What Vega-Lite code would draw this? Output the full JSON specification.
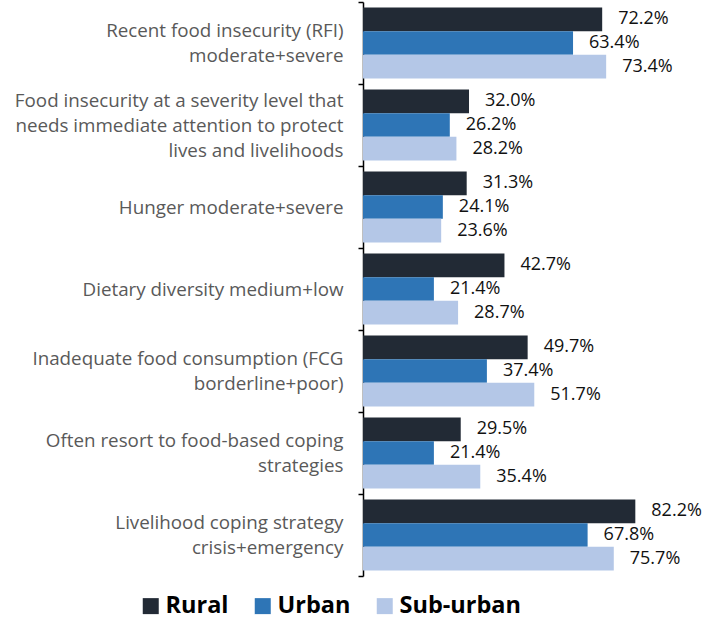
{
  "$schema": "https://vega.github.io/schema/vega-lite/v6.json",
  "autosize": "none",
  "padding": {"left": 363, "top": 2, "right": 0, "bottom": 45},
  "width": 356,
  "height": 574,
  "background": "white",
  "config": {"view": {"stroke": null}, "font": "Open Sans"},
  "data": {
    "values": [
      {"indicator": "Recent food insecurity (RFI)|moderate+severe", "area": "Rural", "value": 0.722},
      {"indicator": "Recent food insecurity (RFI)|moderate+severe", "area": "Urban", "value": 0.634},
      {"indicator": "Recent food insecurity (RFI)|moderate+severe", "area": "Sub-urban", "value": 0.734},
      {"indicator": "Food insecurity at a severity level that|needs immediate attention to protect|lives and livelihoods", "area": "Rural", "value": 0.320},
      {"indicator": "Food insecurity at a severity level that|needs immediate attention to protect|lives and livelihoods", "area": "Urban", "value": 0.262},
      {"indicator": "Food insecurity at a severity level that|needs immediate attention to protect|lives and livelihoods", "area": "Sub-urban", "value": 0.282},
      {"indicator": "Hunger moderate+severe", "area": "Rural", "value": 0.313},
      {"indicator": "Hunger moderate+severe", "area": "Urban", "value": 0.241},
      {"indicator": "Hunger moderate+severe", "area": "Sub-urban", "value": 0.236},
      {"indicator": "Dietary diversity medium+low", "area": "Rural", "value": 0.427},
      {"indicator": "Dietary diversity medium+low", "area": "Urban", "value": 0.214},
      {"indicator": "Dietary diversity medium+low", "area": "Sub-urban", "value": 0.287},
      {"indicator": "Inadequate food consumption (FCG|borderline+poor)", "area": "Rural", "value": 0.497},
      {"indicator": "Inadequate food consumption (FCG|borderline+poor)", "area": "Urban", "value": 0.374},
      {"indicator": "Inadequate food consumption (FCG|borderline+poor)", "area": "Sub-urban", "value": 0.517},
      {"indicator": "Often resort to food-based coping|strategies", "area": "Rural", "value": 0.295},
      {"indicator": "Often resort to food-based coping|strategies", "area": "Urban", "value": 0.214},
      {"indicator": "Often resort to food-based coping|strategies", "area": "Sub-urban", "value": 0.354},
      {"indicator": "Livelihood coping strategy|crisis+emergency", "area": "Rural", "value": 0.822},
      {"indicator": "Livelihood coping strategy|crisis+emergency", "area": "Urban", "value": 0.678},
      {"indicator": "Livelihood coping strategy|crisis+emergency", "area": "Sub-urban", "value": 0.757}
    ]
  },
  "encoding": {
    "y": {
      "field": "indicator",
      "type": "nominal",
      "sort": null,
      "scale": {"paddingInner": 0, "paddingOuter": 0},
      "axis": {
        "title": null,
        "labelExpr": "split(datum.label, '|')",
        "labelFont": "Open Sans",
        "labelFontSize": 18.8,
        "labelColor": "#595959",
        "labelLineHeight": 25,
        "labelLimit": 400,
        "labelPadding": 15,
        "labelOffset": {
          "condition": [
            {"test": "length(split(datum.label, '|')) == 3", "value": -25},
            {"test": "length(split(datum.label, '|')) == 2", "value": -12.5}
          ],
          "value": 0
        },
        "tickBand": "extent",
        "tickSize": 5,
        "tickWidth": 1.5,
        "tickColor": "black",
        "domainColor": "black",
        "domainWidth": 1.5,
        "grid": false
      }
    },
    "yOffset": {
      "field": "area",
      "type": "nominal",
      "sort": ["Rural", "Urban", "Sub-urban"],
      "scale": {"paddingInner": 0, "paddingOuter": 0.23}
    },
    "x": {
      "field": "value",
      "type": "quantitative",
      "scale": {"domain": [0, 1.0746], "nice": false, "zero": true},
      "axis": null
    }
  },
  "layer": [
    {
      "mark": {"type": "bar"},
      "encoding": {
        "color": {
          "field": "area",
          "type": "nominal",
          "sort": ["Rural", "Urban", "Sub-urban"],
          "scale": {"domain": ["Rural", "Urban", "Sub-urban"], "range": ["#222a35", "#2e75b6", "#b4c7e7"]},
          "legend": {
            "title": null,
            "orient": "none",
            "direction": "horizontal",
            "padding": 0,
            "legendX": -224,
            "legendY": 592,
            "symbolType": "square",
            "symbolSize": 256,
            "symbolStrokeWidth": 0,
            "labelFont": "Open Sans",
            "labelFontSize": 23.5,
            "labelFontWeight": "bold",
            "labelColor": "black",
            "labelOffset": 3,
            "columnPadding": 22
          }
        }
      }
    },
    {
      "mark": {"type": "text", "align": "left", "baseline": "middle", "dx": 16, "font": "Open Sans", "fontSize": 18, "color": "#111111"},
      "encoding": {
        "text": {"field": "value", "type": "quantitative", "format": ".1%"}
      }
    }
  ]
}
